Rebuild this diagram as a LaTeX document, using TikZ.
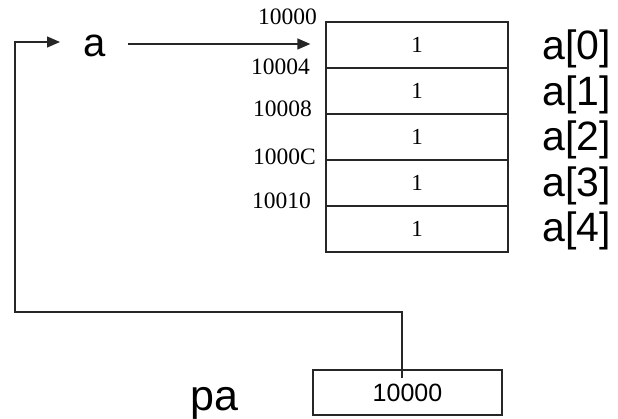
\documentclass[tikz,border=0pt]{standalone}
\usepackage{fontspec}
\setmainfont{Liberation Serif}
\newfontfamily\arialf{Liberation Sans}
\usetikzlibrary{arrows.meta}
\tikzset{
  ln/.style={draw=black!85, line width=1.3pt},
  arr/.style={ln, -{Triangle[length=13pt,width=11pt]}},
  cell/.style={draw=black!85, line width=1.3pt, minimum width=182pt, minimum height=46pt, inner sep=0pt, font=\fontsize{23}{23}\selectfont},
  addr/.style={anchor=base east, inner sep=0pt, font=\fontsize{23.5}{23.5}\selectfont},
  lbl/.style={anchor=base west, inner sep=0pt, font=\arialf\fontsize{41}{41}\selectfont},
  pbx/.style={draw=black!85, line width=1.3pt, minimum width=189pt, minimum height=45pt, inner sep=0pt, font=\arialf\fontsize{25}{25}\selectfont}
}
\begin{document}
\begin{tikzpicture}[x=1pt,y=-1pt]
\useasboundingbox (0,0) rectangle (618,419);
% array cells
\node[cell] (c0) at (417,45) {1};
\node[cell] (c1) at (417,91) {1};
\node[cell] (c2) at (417,137) {1};
\node[cell] (c3) at (417,183) {1};
\node[cell] (c4) at (417,229) {1};
% element labels
\node[lbl] (l0) at (542,60) {a[0]};
\node[lbl] (l1) at (542,105.5) {a[1]};
\node[lbl] (l2) at (542,151) {a[2]};
\node[lbl] (l3) at (542,196.5) {a[3]};
\node[lbl] (l4) at (542,242) {a[4]};
% addresses
\node[addr] (d0) at (317,25) {10000};
\node[addr] (d1) at (310,75) {10004};
\node[addr] (d2) at (312,117) {10008};
\node[addr] (d3) at (316,165) {1000C};
\node[addr] (d4) at (311,209) {10010};
% names
\node[lbl, font=\arialf\fontsize{40}{40}\selectfont] (a) at (83,57) {a};
\node[lbl, font=\arialf\fontsize{43}{43}\selectfont] (pa) at (190,410) {pa};
% pointer box
\node[pbx] (pbox) at (407.5,392.5) {10000};
% connectors
\coordinate (aOut) at (128,44);
\coordinate (aIn) at (60,42);
\coordinate (bend) at (15,312);
\draw[arr] (aOut) -- ([xshift=-15pt]c0.west |- aOut);
\draw[arr] ([xshift=-5.5pt,yshift=-9pt]pbox.north) |- (bend) |- (aIn);
\end{tikzpicture}
\end{document}
